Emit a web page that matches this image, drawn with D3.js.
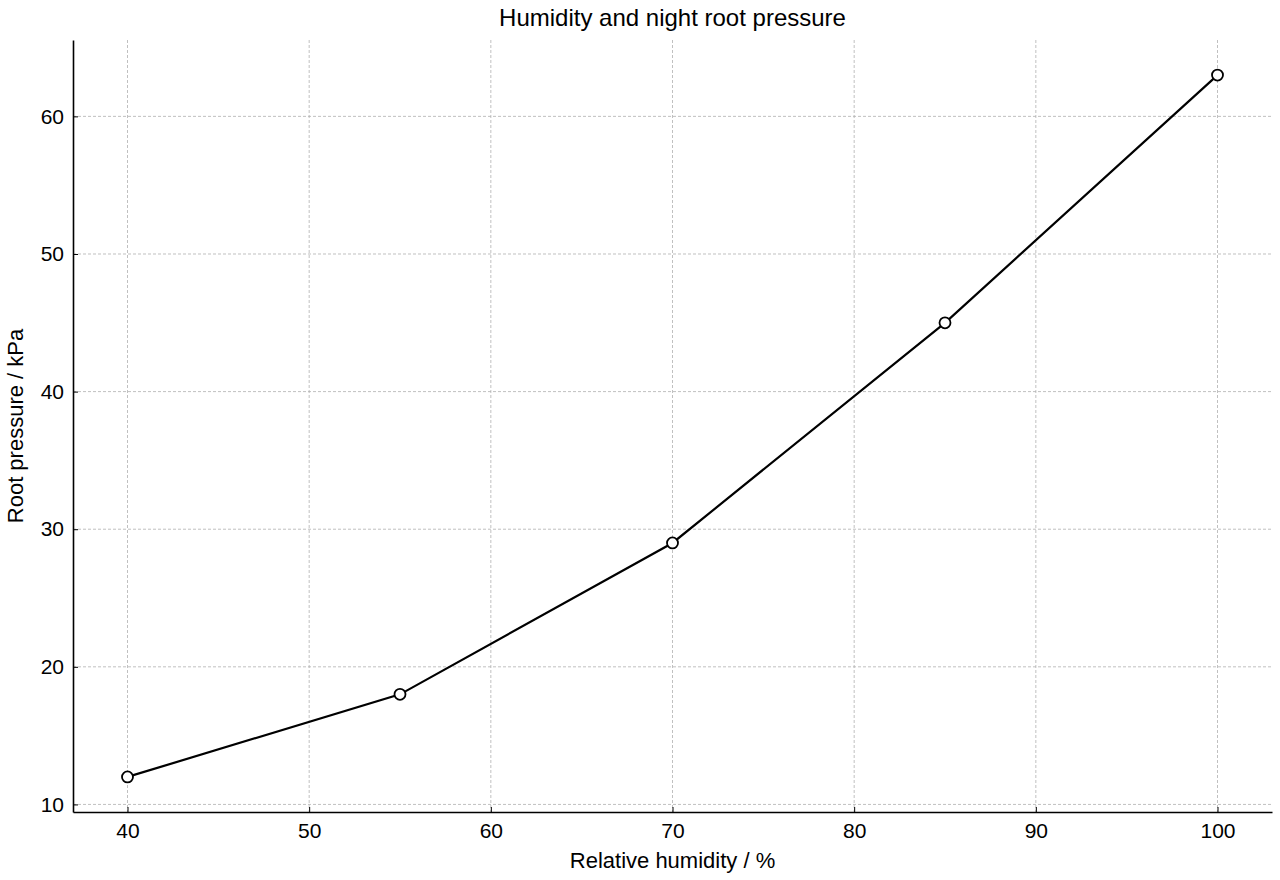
<!DOCTYPE html>
<html>
<head>
<meta charset="utf-8">
<script src="https://cdn.jsdelivr.net/npm/d3@7"></script>
<style>
body { margin: 0; background: #fff; }
text { font-family: "Liberation Sans", Arial, sans-serif; }
</style>
</head>
<body>
<svg id="chart" width="1280" height="880"></svg>
<script>
// data
var humidity = [40, 55, 70, 85, 100];
var pressure = [12, 18, 29, 45, 63];
var xTicks = [40, 50, 60, 70, 80, 90, 100];
var yTicks = [10, 20, 30, 40, 50, 60];

const margin = { left: 73, right: 8, top: 40, bottom: 68 };
const width = 1280 - margin.left - margin.right;
const height = 880 - margin.top - margin.bottom;

const svg = d3.select("#chart");
const g = svg.append("g").attr("transform", `translate(${margin.left},${margin.top})`);

const xScale = d3.scaleLinear().domain([37, 103]).range([0, width]);
const yScale = d3.scaleLinear().domain([9.45, 65.55]).range([height, 0]);

// grid
g.selectAll(".vgrid").data(xTicks).join("line")
    .attr("x1", d => xScale(d)).attr("x2", d => xScale(d))
    .attr("y1", 0).attr("y2", height)
    .attr("stroke", "#b0b0b0").attr("stroke-width", 0.8).attr("stroke-dasharray", "3,2");
g.selectAll(".hgrid").data(yTicks).join("line")
    .attr("y1", d => yScale(d)).attr("y2", d => yScale(d))
    .attr("x1", 0).attr("x2", width)
    .attr("stroke", "#b0b0b0").attr("stroke-width", 0.8).attr("stroke-dasharray", "3,2");

// axes
const xAxis = g.append("g").attr("transform", `translate(0,${height})`)
    .call(d3.axisBottom(xScale).tickValues(xTicks).tickSize(-5).tickPadding(11).tickSizeOuter(0));
const yAxis = g.append("g")
    .call(d3.axisLeft(yScale).tickValues(yTicks).tickSize(-5).tickPadding(9).tickSizeOuter(0));
[xAxis, yAxis].forEach(a => {
    a.select(".domain").attr("stroke", "#000").attr("stroke-width", 1.6);
    a.selectAll(".tick line").attr("stroke", "#000");
    a.selectAll(".tick text").style("font-size", "21px").attr("fill", "#000");
});

// line and markers
const points = humidity.map((h, i) => [h, pressure[i]]);
g.append("path").datum(points)
    .attr("d", d3.line().x(d => xScale(d[0])).y(d => yScale(d[1])))
    .attr("fill", "none").attr("stroke", "#000").attr("stroke-width", 2.2);
g.selectAll(".pt").data(points).join("circle")
    .attr("cx", d => xScale(d[0])).attr("cy", d => yScale(d[1])).attr("r", 5.5)
    .attr("fill", "#fff").attr("stroke", "#000").attr("stroke-width", 1.8);

// labels
svg.append("text").text("Humidity and night root pressure")
    .attr("x", margin.left + width / 2).attr("y", 26)
    .style("text-anchor", "middle").style("font-size", "24px");
svg.append("text").text("Relative humidity / %")
    .attr("x", margin.left + width / 2).attr("y", 868)
    .style("text-anchor", "middle").style("font-size", "22px");
svg.append("text").text("Root pressure / kPa")
    .attr("transform", `translate(23,${margin.top + height / 2}) rotate(-90)`)
    .style("text-anchor", "middle").style("font-size", "22px");
</script>
</body>
</html>
